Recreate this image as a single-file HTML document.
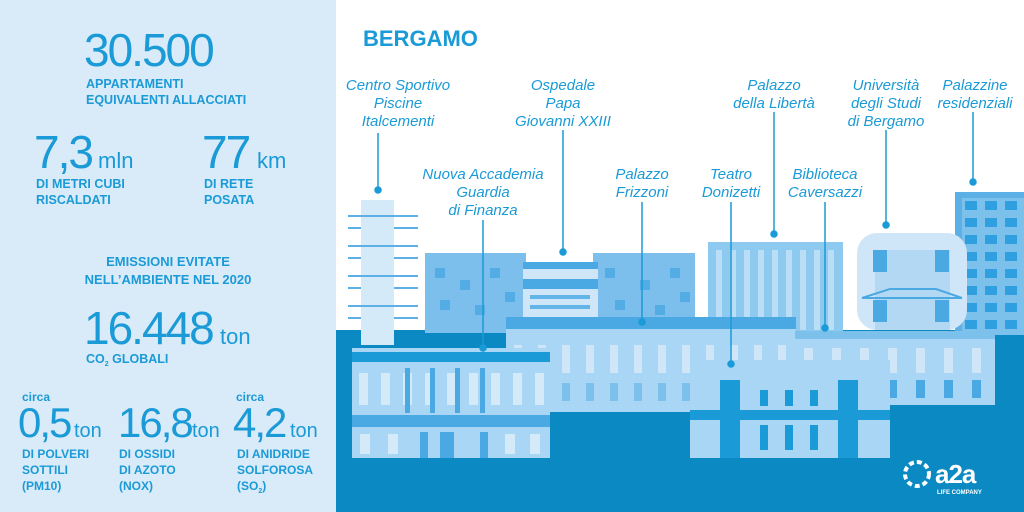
<!DOCTYPE html>
<html><head><meta charset="utf-8"><style>
body{margin:0;width:1024px;height:512px;overflow:hidden;font-family:"Liberation Sans",sans-serif}
svg{display:block}
</style></head><body>
<svg width="1024" height="512" viewBox="0 0 1024 512" xmlns="http://www.w3.org/2000/svg" font-family="Liberation Sans, sans-serif">
<defs>
<pattern id="pw" x="962" y="198" width="20" height="17" patternUnits="userSpaceOnUse"><rect x="3" y="3" width="12" height="9" fill="#2f9fe0"/></pattern>
<pattern id="aw" x="352" y="368" width="22" height="45" patternUnits="userSpaceOnUse"><rect x="7" y="5" width="9" height="32" fill="#d5eaf9"/></pattern>
<pattern id="fw" x="506" y="335" width="24" height="70" patternUnits="userSpaceOnUse"><rect x="8" y="10" width="8" height="28" fill="#cfe6f8"/><rect x="8" y="48" width="8" height="18" fill="#7cc0ec"/></pattern>
<pattern id="cw" x="795" y="340" width="28" height="60" patternUnits="userSpaceOnUse"><rect x="9" y="8" width="9" height="25" fill="#cfe6f8"/><rect x="9" y="40" width="9" height="18" fill="#4aa9e3"/></pattern>
</defs>
<rect width="1024" height="512" fill="#fff"/>
<rect x="0" y="0" width="336" height="512" fill="#d9ebf9"/>
<rect x="336" y="330" width="688" height="182" fill="#0a89c2"/>
<g fill="#1a9ad6">
<text x="84" y="66" font-size="46" letter-spacing="-2">30.500</text>
<text x="86" y="88" font-size="12.5" font-weight="bold">APPARTAMENTI</text>
<text x="86" y="104" font-size="12.5" font-weight="bold">EQUIVALENTI ALLACCIATI</text>
<text x="34" y="168" font-size="46" letter-spacing="-2">7,3</text>
<text x="98" y="168" font-size="22">mln</text>
<text x="36" y="188" font-size="12.5" font-weight="bold">DI METRI CUBI</text>
<text x="36" y="204" font-size="12.5" font-weight="bold">RISCALDATI</text>
<text x="202" y="168" font-size="46" letter-spacing="-2">77</text>
<text x="257" y="168" font-size="22">km</text>
<text x="204" y="188" font-size="12.5" font-weight="bold">DI RETE</text>
<text x="204" y="204" font-size="12.5" font-weight="bold">POSATA</text>
<text x="168" y="266" font-size="13" font-weight="bold" text-anchor="middle">EMISSIONI EVITATE</text>
<text x="168" y="284" font-size="13" font-weight="bold" text-anchor="middle">NELL’AMBIENTE NEL 2020</text>
<text x="84" y="344" font-size="46" letter-spacing="-2">16.448</text>
<text x="220" y="344" font-size="22">ton</text>
<text x="86" y="363" font-size="12.5" font-weight="bold">CO<tspan font-size="7" dy="3">2</tspan><tspan dy="-3"> GLOBALI</tspan></text>
<text x="22" y="401" font-size="12" font-weight="bold">circa</text>
<text x="236" y="401" font-size="12" font-weight="bold">circa</text>
<text x="18" y="437" font-size="42" letter-spacing="-2">0,5</text>
<text x="74" y="437" font-size="20">ton</text>
<text x="118" y="437" font-size="42" letter-spacing="-2">16,8</text>
<text x="192" y="437" font-size="20">ton</text>
<text x="233" y="437" font-size="42" letter-spacing="-2">4,2</text>
<text x="290" y="437" font-size="20">ton</text>
<g font-size="12" font-weight="bold">
<text x="22" y="458">DI POLVERI</text><text x="22" y="474">SOTTILI</text><text x="22" y="490">(PM10)</text>
<text x="119" y="458">DI OSSIDI</text><text x="119" y="474">DI AZOTO</text><text x="119" y="490">(NOX)</text>
<text x="237" y="458">DI ANIDRIDE</text><text x="237" y="474">SOLFOROSA</text><text x="237" y="490">(SO<tspan font-size="7" dy="3">2</tspan><tspan dy="-3">)</tspan></text>
</g>
<text x="363" y="46" font-size="22" font-weight="bold">BERGAMO</text>
</g>
<g>
<rect x="955" y="192" width="69" height="143" fill="#5cb0e6"/>
<rect x="962" y="198" width="62" height="137" fill="#7cc0ec"/>
<rect x="962" y="198" width="62" height="137" fill="url(#pw)"/>
<rect x="857" y="233" width="110" height="97" rx="20" fill="#cfe6f8"/>
<rect x="875" y="250" width="75" height="80" fill="#b3d8f4"/>
<rect x="873" y="250" width="14" height="22" fill="#4aa9e3"/><rect x="935" y="250" width="14" height="22" fill="#4aa9e3"/>
<rect x="873" y="300" width="14" height="22" fill="#4aa9e3"/><rect x="935" y="300" width="14" height="22" fill="#4aa9e3"/>
<path d="M862 298 L890 289 L936 289 L962 298 Z" fill="none" stroke="#4aa9e3" stroke-width="2"/>
<rect x="708" y="242" width="135" height="90" fill="#8ec9f0"/>
<g fill="#b9def6"><rect x="716" y="250" width="6" height="80"/><rect x="730" y="250" width="6" height="80"/><rect x="744" y="250" width="6" height="80"/><rect x="758" y="250" width="6" height="80"/><rect x="772" y="250" width="6" height="80"/><rect x="786" y="250" width="6" height="80"/><rect x="800" y="250" width="6" height="80"/><rect x="814" y="250" width="6" height="80"/><rect x="828" y="250" width="6" height="80"/></g>
<rect x="425" y="253" width="101" height="80" fill="#7cbfec"/>
<rect x="593" y="253" width="102" height="80" fill="#7cbfec"/>
<rect x="523" y="262" width="75" height="70" fill="#cfe6f8"/>
<rect x="523" y="262" width="75" height="7" fill="#4aa9e3"/>
<rect x="523" y="279" width="75" height="10" fill="#4aa9e3"/>
<g fill="#4aa9e3" opacity=".8"><rect x="435" y="268" width="10" height="10"/><rect x="460" y="280" width="10" height="10"/><rect x="490" y="268" width="10" height="10"/><rect x="440" y="300" width="10" height="10"/><rect x="475" y="305" width="10" height="10"/><rect x="505" y="292" width="10" height="10"/><rect x="605" y="268" width="10" height="10"/><rect x="640" y="280" width="10" height="10"/><rect x="670" y="268" width="10" height="10"/><rect x="615" y="300" width="10" height="10"/><rect x="655" y="305" width="10" height="10"/><rect x="680" y="292" width="10" height="10"/><rect x="530" y="295" width="60" height="4"/><rect x="530" y="305" width="60" height="4"/></g>
<rect x="361" y="200" width="33" height="145" fill="#d5eaf9"/>
<g fill="none" stroke="#5cb0e6" stroke-width="2"><path d="M348 216h70M348 246h70M348 276h70M348 306h70M348 228h13M394 228h24M348 258h13M394 258h24M348 288h13M394 288h24M348 318h13M394 318h24"/></g>
<rect x="506" y="317" width="290" height="95" fill="#a9d6f5"/>
<rect x="506" y="335" width="290" height="70" fill="url(#fw)"/>
<rect x="506" y="317" width="290" height="12" fill="#4aa9e3"/>
<rect x="795" y="331" width="200" height="74" fill="#a9d6f5"/>
<rect x="795" y="340" width="200" height="60" fill="url(#cw)"/>
<rect x="795" y="331" width="200" height="8" fill="#7cc0ec"/>
<rect x="352" y="348" width="198" height="110" fill="#a9d6f5"/>
<rect x="352" y="368" width="198" height="45" fill="url(#aw)"/>
<rect x="352" y="352" width="198" height="10" fill="#1a9ad6"/>
<rect x="352" y="415" width="198" height="12" fill="#4aa9e3"/>
<g fill="#4aa9e3"><rect x="405" y="368" width="5" height="45"/><rect x="430" y="368" width="5" height="45"/><rect x="455" y="368" width="5" height="45"/><rect x="480" y="368" width="5" height="45"/><rect x="420" y="432" width="8" height="26"/><rect x="440" y="432" width="14" height="26"/><rect x="480" y="432" width="8" height="26"/></g>
<g fill="#d5eaf9"><rect x="360" y="434" width="10" height="20"/><rect x="388" y="434" width="10" height="20"/><rect x="505" y="434" width="10" height="20"/><rect x="530" y="434" width="10" height="20"/></g>
<rect x="690" y="360" width="200" height="98" fill="#a9d6f5"/>
<rect x="690" y="410" width="200" height="10" fill="#1a9ad6"/>
<g fill="#1a9ad6"><rect x="720" y="380" width="20" height="78"/><rect x="838" y="380" width="20" height="78"/><rect x="760" y="425" width="8" height="25"/><rect x="785" y="425" width="8" height="25"/><rect x="810" y="425" width="8" height="25"/><rect x="760" y="390" width="8" height="16"/><rect x="785" y="390" width="8" height="16"/><rect x="810" y="390" width="8" height="16"/></g>
</g>
<g stroke="#1a9ad6" stroke-width="1.5" fill="#1a9ad6">
<line x1="378" y1="133" x2="378" y2="190"/><circle cx="378" cy="190" r="3"/>
<line x1="563" y1="130" x2="563" y2="252"/><circle cx="563" cy="252" r="3"/>
<line x1="774" y1="112" x2="774" y2="234"/><circle cx="774" cy="234" r="3"/>
<line x1="886" y1="130" x2="886" y2="225"/><circle cx="886" cy="225" r="3"/>
<line x1="973" y1="112" x2="973" y2="182"/><circle cx="973" cy="182" r="3"/>
<line x1="483" y1="220" x2="483" y2="348"/><circle cx="483" cy="348" r="3"/>
<line x1="642" y1="202" x2="642" y2="322"/><circle cx="642" cy="322" r="3"/>
<line x1="731" y1="202" x2="731" y2="364"/><circle cx="731" cy="364" r="3"/>
<line x1="825" y1="202" x2="825" y2="328"/><circle cx="825" cy="328" r="3"/>
</g>
<g fill="#1a9ad6" font-size="15" font-style="italic" text-anchor="middle">
<text x="398" y="90">Centro Sportivo</text><text x="398" y="108">Piscine</text><text x="398" y="126">Italcementi</text>
<text x="563" y="90">Ospedale</text><text x="563" y="108">Papa</text><text x="563" y="126">Giovanni XXIII</text>
<text x="774" y="90">Palazzo</text><text x="774" y="108">della Libertà</text>
<text x="886" y="90">Università</text><text x="886" y="108">degli Studi</text><text x="886" y="126">di Bergamo</text>
<text x="975" y="90">Palazzine</text><text x="975" y="108">residenziali</text>
<text x="483" y="179">Nuova Accademia</text><text x="483" y="197">Guardia</text><text x="483" y="215">di Finanza</text>
<text x="642" y="179">Palazzo</text><text x="642" y="197">Frizzoni</text>
<text x="731" y="179">Teatro</text><text x="731" y="197">Donizetti</text>
<text x="825" y="179">Biblioteca</text><text x="825" y="197">Caversazzi</text>
</g>
<circle cx="917" cy="474" r="12" fill="none" stroke="#fff" stroke-width="4" stroke-dasharray="5 3"/>
<text x="935" y="483" font-size="26" fill="#fff" font-weight="bold" letter-spacing="-1">a2a</text>
<text x="937" y="494" font-size="6" fill="#fff" font-weight="bold">LIFE COMPANY</text>
</svg>
</body></html>
